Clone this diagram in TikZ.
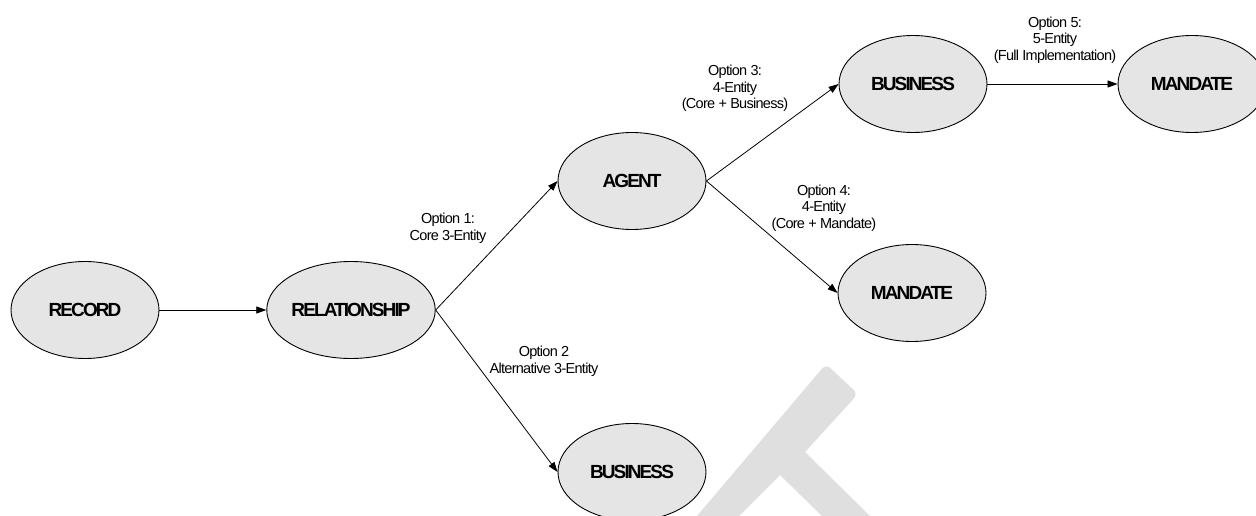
\documentclass[tikz,border=0pt]{standalone}
\usepackage{fontspec}
\setmainfont{Liberation Sans}
\newfontfamily\entityfont[LetterSpace=-10]{Liberation Sans}
\newfontfamily\optionfont[LetterSpace=-5]{Liberation Sans}
\usetikzlibrary{arrows.meta,shapes.geometric}
\definecolor{entityfill}{gray}{0.90}
\definecolor{markgray}{gray}{0.875}
\begin{document}
\begin{tikzpicture}[x=1pt,y=-1pt,
  entity/.style={ellipse, draw=black, line width=0.9pt, fill=entityfill,
    minimum width=148pt, minimum height=97pt, inner sep=0pt,
    font=\entityfont\bfseries\fontsize{19}{22}\selectfont},
  link/.style={-{Triangle[length=10pt,width=7pt]}, line width=0.8pt},
  option/.style={align=center, inner sep=0pt,
    font=\optionfont\fontsize{14.5}{16.5}\selectfont}]
\useasboundingbox (0,0) rectangle (1256,516);
\fill[white] (0,0) rectangle (1256,516);
\clip (0,0) rectangle (1256,516);

% grey mark in the lower part
\fill[markgray, rounded corners=6pt] (697,516) -- (826,364) -- (858,394)
  [sharp corners] -- (805,452) -- (870,516) -- (822,516) -- (780,475) -- (739,516) -- cycle;

% entities
\node[entity] (record)   at (85,310)   {RECORD};
\node[entity] (relation) at (351,310)  {RELATIONSHIP};
\node[entity] (agent)    at (632,181)  {AGENT};
\node[entity] (busA)     at (913,84)   {BUSINESS};
\node[entity] (mandA)    at (1192,84)  {MANDATE};
\node[entity] (mandB)    at (912,293)  {MANDATE};
\node[entity] (busB)     at (632,472)  {BUSINESS};

% connectors
\draw[link] (record.east) -- (relation.west);
\draw[link] (relation.east) -- (agent.west);
\draw[link] (relation.east) -- (busB.west);
\draw[link] (agent.east) -- (busA.west);
\draw[link] (agent.east) -- (mandB.west);
\draw[link] (busA.east) -- (mandA.west);

% option labels
\node[option] (opt1) at (448,228.5) {Option 1:\\Core 3-Entity};
\node[option] (opt2) at (544,361)   {Option 2\\Alternative 3-Entity};
\node[option] (opt3) at (735,88.5)  {Option 3:\\4-Entity\\(Core + Business)};
\node[option] (opt4) at (824,208)   {Option 4:\\4-Entity\\(Core + Mandate)};
\node[option] (opt5) at (1055,40)   {Option 5:\\5-Entity\\(Full Implementation)};
\end{tikzpicture}
\end{document}
